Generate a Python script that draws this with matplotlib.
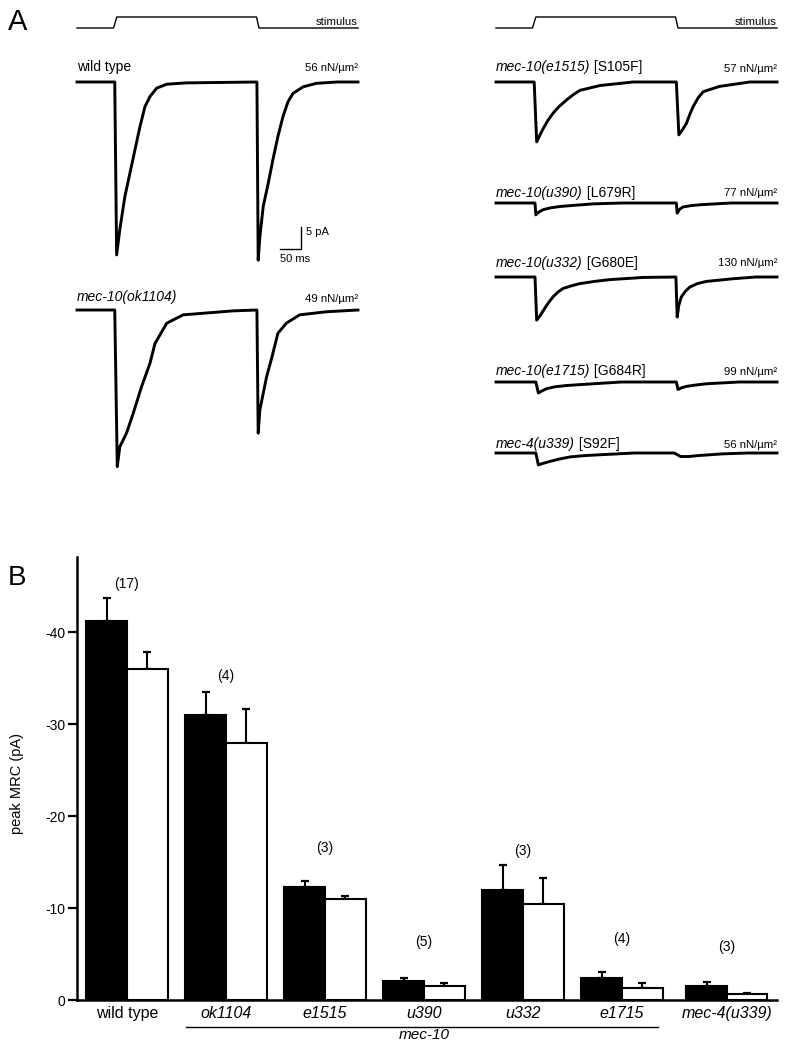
import numpy as np
import matplotlib.pyplot as plt

plt.rcParams['font.family'] = ['Liberation Sans', 'DejaVu Sans']
plt.rcParams['axes.unicode_minus'] = False

# ---- panel A: current traces (ms, pA) ----
stim_t = [0, 87, 95, 428, 434, 670]
stim_v = [0, 0, 1, 1, 0, 0]

wt_t = [0, 90, 94.5, 102, 114, 126, 138, 150, 162, 174, 190, 214, 261, 429,
        432, 436, 444, 456, 467, 479, 491, 503, 515, 539, 571, 620, 670]
wt_i = [0, 0, -39.3, -33.6, -26.1, -20.8, -15.5, -10.2, -5.6, -3.3, -1.4, -0.5, -0.2, 0,
        -40.5, -35.2, -28.3, -23.0, -17.7, -12.4, -7.9, -4.5, -2.6, -1.1, -0.3, 0, 0]

ok1104_t = [0, 90, 96, 102, 118, 134, 154, 174, 186, 214, 253, 293, 372, 429,
            432, 436, 452, 464, 479, 499, 531, 595, 670]
ok1104_i = [0, 0, -35.6, -31.1, -28.0, -23.5, -17.4, -12.1, -7.6, -3.0, -1.1, -0.8, -0.2, 0,
            -28.0, -22.7, -15.2, -11.0, -5.3, -3.0, -1.1, -0.4, 0]

e1515_t = [0, 91, 97, 105, 113, 124, 136, 150, 168, 184, 200, 248, 327, 430,
           436, 445, 454, 462, 470, 482, 494, 533, 605, 670]
e1515_i = [0, 0, -13.6, -12.0, -10.5, -8.7, -7.1, -5.6, -4.1, -2.9, -1.9, -0.8, 0, 0,
           -12.0, -10.8, -9.4, -7.4, -5.6, -3.6, -2.2, -1.0, 0, 0]

u390_t = [0, 93, 95, 103, 113, 130, 152, 190, 232, 300, 430, 432, 438, 446, 465, 486, 560, 670]
u390_i = [0, 0, -2.7, -2.0, -1.5, -1.1, -0.8, -0.5, -0.2, 0, 0, -2.3, -1.4, -0.9, -0.6, -0.4, 0, 0]

u332_t = [0, 93, 97, 105, 113, 124, 136, 148, 160, 180, 200, 235, 271, 351, 429,
          432, 436, 442, 452, 462, 480, 502, 565, 620, 670]
u332_i = [0, 0, -9.8, -8.8, -7.6, -6.0, -4.5, -3.4, -2.6, -2.0, -1.5, -1.0, -0.6, -0.1, 0,
          -9.1, -6.4, -4.5, -3.2, -2.3, -1.5, -1.0, -0.4, 0, 0]

e1715_t = [0, 95, 101, 110, 121, 140, 168, 200, 232, 300, 430, 434, 443, 454, 475, 502, 580, 670]
e1715_i = [0, 0, -2.5, -2.0, -1.5, -1.1, -0.8, -0.6, -0.4, 0, 0, -1.7, -1.3, -1.0, -0.7, -0.4, 0, 0]

u339_t = [0, 95, 101, 114, 129, 150, 176, 210, 248, 330, 425, 440, 460, 480, 540, 600, 670]
u339_i = [0, 0, -2.7, -2.3, -1.9, -1.4, -0.9, -0.6, -0.4, 0, 0, -0.8, -0.8, -0.6, -0.2, 0, 0]

# ---- panel B: peak MRC ----
genotypes = ['wild type', 'ok1104', 'e1515', 'u390', 'u332', 'e1715', 'mec-4(u339)']
first_peak = [-41.2, -31.0, -12.3, -2.1, -12.0, -2.4, -1.5]
first_err = [2.5, 2.5, 0.6, 0.3, 2.7, 0.7, 0.5]
second_peak = [-36.0, -28.0, -11.0, -1.5, -10.4, -1.3, -0.6]
second_err = [1.9, 3.7, 0.3, 0.4, 2.9, 0.6, 0.15]
n_cells = [17, 4, 3, 5, 3, 4, 3]

W, H = 787, 1050
fig = plt.figure(figsize=(W / 100, H / 100), dpi=100)


def px_axes(x0, y0, x1, y1):
    return fig.add_axes([x0 / W, 1 - y1 / H, (x1 - x0) / W, (y1 - y0) / H])


def ftext(x, y, s, **kw):
    return fig.text(x / W, 1 - y / H, s, **kw)


PX_PER_PA = 4.4
COL_W = 281

# stimulus bars
for x0 in (77, 496):
    ax = px_axes(x0, 12, x0 + COL_W, 33)
    ax.plot(stim_t, stim_v, color='black', lw=1.0, clip_on=False)
    ax.set_xlim(0, 670)
    ax.set_ylim(-5 / 11, 16 / 11)
    ax.axis('off')
    ftext(x0 + COL_W, 25, 'stimulus', ha='right', va='baseline', fontsize=8.2)

# x0, baseline y, label y, italic part, plain part, force
traces = [
    (77, 82, 71, 'wild type', '', '56', wt_t, wt_i),
    (77, 310, 301.5, 'mec-10(ok1104)', '', '49', ok1104_t, ok1104_i),
    (496, 82, 71.5, 'mec-10(e1515)', ' [S105F]', '57', e1515_t, e1515_i),
    (496, 203, 196.5, 'mec-10(u390)', ' [L679R]', '77', u390_t, u390_i),
    (496, 277, 266.5, 'mec-10(u332)', ' [G680E]', '130', u332_t, u332_i),
    (496, 382, 375, 'mec-10(e1715)', ' [G684R]', '99', e1715_t, e1715_i),
    (496, 453, 448, 'mec-4(u339)', ' [S92F]', '56', u339_t, u339_i),
]

axes_A = []
for x0, yb, ylab, ital, plain, force, t, i in traces:
    ax = px_axes(x0, yb - 15, x0 + COL_W, yb + 190)
    ax.plot(t, i, color='black', lw=2.1, clip_on=False, solid_joinstyle='round')
    ax.set_xlim(0, 670)
    ax.set_ylim(-190 / PX_PER_PA, 15 / PX_PER_PA)
    ax.axis('off')
    axes_A.append(ax)
    style = 'normal' if ital == 'wild type' else 'italic'
    lab = ftext(x0, ylab, ital, style=style, fontsize=10, va='baseline')
    if plain:
        ax.annotate(plain, xy=(1, 0), xycoords=lab, va='bottom', ha='left', fontsize=10)
    ftext(x0 + COL_W, ylab, force + ' nN/µm²', ha='right', va='baseline', fontsize=8.2)

# scale bar on wild type trace: 50 ms, 5 pA
ax = axes_A[0]
ax.plot([483, 533, 533], [-38, -38, -33], color='black', lw=1.0, clip_on=False)
ax.text(545, -34.2, '5 pA', fontsize=8, va='center', ha='left')
ax.text(519, -40.2, '50 ms', fontsize=8, va='center', ha='center')

ftext(8, 30, 'A', fontsize=21, va='baseline')
ftext(8, 585, 'B', fontsize=20, va='baseline')

# ---- panel B ----
pos = np.array([0, 1, 2, 3, 4, 5, 6.06])
n_label_y = [-45.3, -35.2, -16.5, -6.3, -16.2, -6.6, -5.8]
bw = 0.41
zeros = np.zeros(len(pos))

axb = px_axes(77, 557, 777, 1000)
axb.bar(pos - bw / 2, first_peak, bw, color='black', edgecolor='black', lw=1.5, zorder=2)
axb.bar(pos + bw / 2, second_peak, bw, color='white', edgecolor='black', lw=1.5, zorder=2)
axb.errorbar(pos - bw / 2, first_peak, yerr=[first_err, zeros], fmt='none', ecolor='black',
             elinewidth=1.5, capsize=2.6, capthick=1.6, zorder=1)
axb.errorbar(pos + bw / 2, second_peak, yerr=[second_err, zeros], fmt='none', ecolor='black',
             elinewidth=1.5, capsize=2.6, capthick=1.6, zorder=1)
for x, y, n in zip(pos, n_label_y, n_cells):
    axb.text(x, y, f'({n})', ha='center', va='center', fontsize=10)

axb.set_xlim(-0.505, 6.566)
axb.set_ylim(0, -48.2)
for s in ('top', 'right'):
    axb.spines[s].set_visible(False)
for s in ('left', 'bottom'):
    axb.spines[s].set_linewidth(1.8)
axb.set_yticks([0, -10, -20, -30, -40], ['0', '-10', '-20', '-30', '-40'])
axb.tick_params(axis='y', length=6.5, width=1.6, labelsize=10, pad=2)
axb.set_xticks(pos, genotypes)
axb.tick_params(axis='x', length=0, labelsize=11.5, pad=4)
for k, lbl in enumerate(axb.get_xticklabels()):
    if k > 0:
        lbl.set_style('italic')

# mec-10 bracket line
tr = axb.get_xaxis_transform()
axb.plot([0.593, 5.36], [-0.060, -0.060], color='black', lw=1.0, transform=tr, clip_on=False)
axb.text(3, -0.079, 'mec-10', transform=tr, ha='center', va='center', style='italic', fontsize=11)

ftext(17.5, 783, 'peak MRC (pA)', rotation=90, ha='center', va='center', fontsize=10.5)

fig.savefig('out.png', dpi=100)
